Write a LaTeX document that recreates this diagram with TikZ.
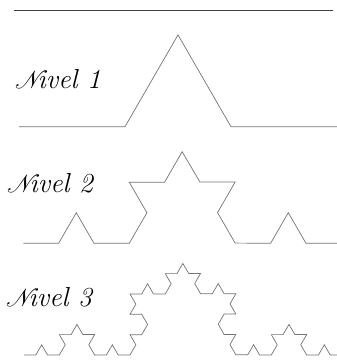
\documentclass[tikz,border=0pt]{standalone}
\usepackage{mathrsfs}
\usetikzlibrary{decorations.fractals}

\newcommand{\scriptN}{{\usefont{U}{rsfs}{m}{n}N}}

\begin{document}
\begin{tikzpicture}[
    x=1pt, y=1pt,
    % Styles
    kochline/.style={draw=black!55, line width=0.7pt, line join=miter,
        decoration=Koch snowflake},
    topline/.style={draw=black!75, line width=0.9pt},
    levellabel/.style={anchor=base west, inner sep=0pt,
        font=\fontsize{27.5}{31}\selectfont\itshape},
]
\clip (0,0) rectangle (337,360);

% ============ Top rule ============
\coordinate (ruleleft) at (14,349.7);
\coordinate (ruleright) at (333,349.7);
\draw[topline] (ruleleft) -- (ruleright);

% ============ Level 1 ============
\node[levellabel] (nivel1) at (15,271.7) {\scriptN ivel 1};
\coordinate (start1) at (19,233.3);
\coordinate (end1) at (337,233.3);
\draw[kochline] decorate{ (start1) -- (end1) };

% ============ Level 2 ============
\node[levellabel] (nivel2) at (7,167.3) {\scriptN ivel 2};
\coordinate (start2) at (23.3,116.7);
\coordinate (end2) at (341.3,116.7);
\draw[kochline] decorate{ decorate{ (start2) -- (end2) } };

% ============ Level 3 ============
\node[levellabel] (nivel3) at (6,53.3) {\scriptN ivel 3};
\coordinate (start3) at (24,5);
\coordinate (end3) at (342,5);
\draw[kochline] decorate{ decorate{ decorate{ (start3) -- (end3) } } };

\end{tikzpicture}
\end{document}
